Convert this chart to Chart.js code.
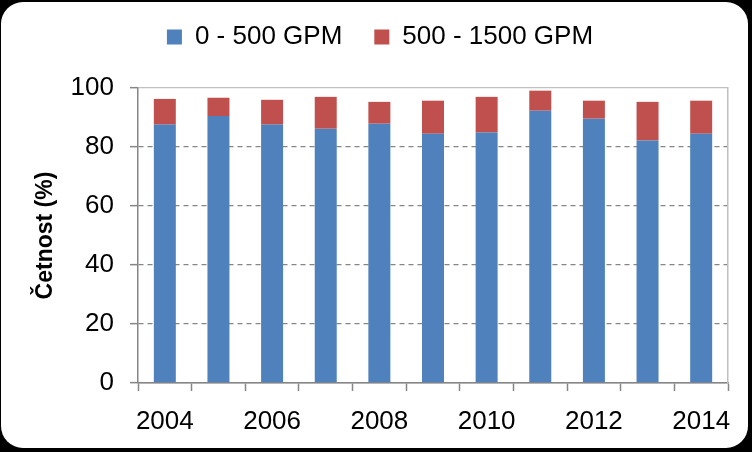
<!DOCTYPE html>
<html>
<head>
<meta charset="utf-8">
<script src="https://cdn.jsdelivr.net/npm/chart.js@4/dist/chart.umd.min.js"></script>
<style>
  html, body { margin: 0; padding: 0; background: #000; }
  #card { position: absolute; left: 1px; top: 2px; width: 747px; height: 446px; background: #fff; border-radius: 22px; }
  #wrap { position: absolute; left: 0; top: 0; width: 752px; height: 452px; }
</style>
</head>
<body>
<div id="card"></div>
<div id="wrap"><canvas id="graf" width="752" height="452"></canvas></div>
<script>
var roky = ['2004', '2005', '2006', '2007', '2008', '2009', '2010', '2011', '2012', '2013', '2014'];
var nizke = [87.6, 90.5, 87.6, 86.2, 87.9, 84.5, 84.9, 92.3, 89.6, 82.2, 84.5];
var vysoke = [8.7, 6.2, 8.4, 10.8, 7.4, 11.2, 12.1, 6.8, 6.1, 13.1, 11.2];
var osaY = [0, 20, 40, 60, 80, 100];

var pismo = "'Liberation Sans', Arial, sans-serif";
var seda = '#868686';

new Chart(document.getElementById('graf'), {
    type: 'bar',
    data: {
        labels: roky,
        datasets: [{
            label: '0 - 500 GPM',
            data: nizke,
            backgroundColor: '#4F81BD',
            barPercentage: 0.41,
            categoryPercentage: 1
        }, {
            label: '500 - 1500 GPM',
            data: vysoke,
            backgroundColor: '#C0504D',
            barPercentage: 0.41,
            categoryPercentage: 1
        }]
    },
    options: {
        responsive: false,
        animation: false,
        layout: { padding: { left: 32, right: 24, top: -8, bottom: 10 } },
        plugins: {
            tooltip: { enabled: false },
            legend: {
                position: 'top',
                labels: {
                    color: '#000',
                    font: { family: pismo, size: 26 },
                    boxWidth: 15,
                    boxHeight: 15,
                    padding: 32
                }
            }
        },
        scales: {
            x: {
                stacked: true,
                grid: { offset: true, drawOnChartArea: false, drawTicks: true, tickLength: 8, tickColor: seda, tickWidth: 1.5 },
                border: { color: seda, width: 1.5 },
                ticks: {
                    color: '#000',
                    font: { family: pismo, size: 26 },
                    autoSkip: false,
                    maxRotation: 0,
                    padding: 15,
                    callback: function (v, i) { return i % 2 === 0 ? roky[i] : ''; }
                },
                afterFit: function (s) { s.height = 59; }
            },
            mezera: {
                type: 'category',
                position: 'top',
                grid: { display: false },
                ticks: { display: false },
                border: { display: false },
                afterFit: function (s) { s.height = 28; }
            },
            y: {
                stacked: true,
                min: 0,
                max: 100,
                afterBuildTicks: function (s) { s.ticks = osaY.map(function (v) { return { value: v }; }); },
                grid: {
                    color: function (c) { return c.tick && c.tick.value === 100 ? '#C0C0C0' : seda; },
                    lineWidth: 1.3,
                    tickLength: 8,
                    tickColor: seda,
                    tickWidth: 1.5
                },
                border: {
                    color: seda,
                    width: 1.5,
                    dash: function (c) { return c.tick && c.tick.value > 0 && c.tick.value < 100 ? [5, 4] : []; }
                },
                ticks: {
                    color: '#000',
                    font: { family: pismo, size: 26 },
                    padding: 16
                },
                title: {
                    display: true,
                    text: 'Četnost (%)',
                    color: '#000',
                    font: { family: pismo, size: 23, weight: 'bold' },
                    padding: { top: 0, bottom: 0 }
                },
                afterFit: function (s) { s.width = 106; }
            },
            y2: {
                position: 'right',
                min: 0,
                max: 100,
                grid: { display: false },
                ticks: { display: false },
                border: { color: '#C0C0C0', width: 1.5 },
                afterFit: function (s) { s.width = 0; }
            }
        }
    }
});
</script>
</body>
</html>
